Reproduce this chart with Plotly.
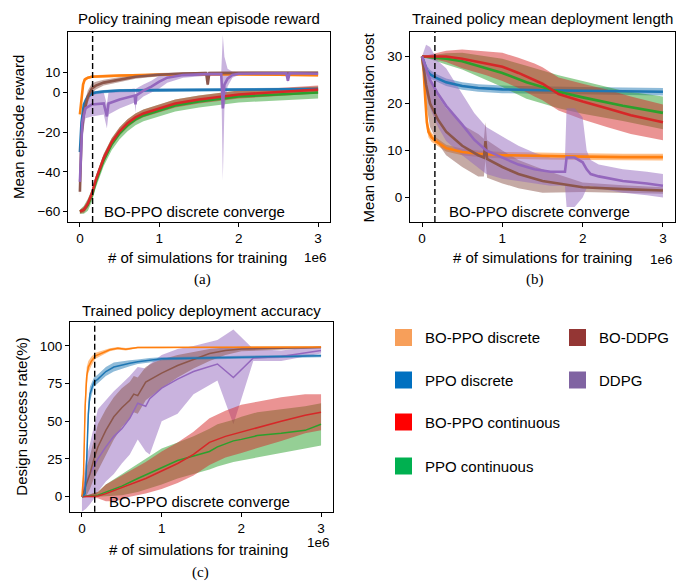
import plotly.graph_objects as go

# page body has an 8px default margin: the figure is shrunk and all pixel
# positions below are given in window pixels and converted with OFF.
WIN_W, WIN_H = 691, 583
OFF = 8
W, H = WIN_W - OFF, WIN_H - OFF

# ---------------- Panel (a): Policy training mean episode reward ----------------
A_ORANGE_X = [0, 0.02, 0.04, 0.06, 0.1, 0.15, 0.3, 0.5, 1.0, 1.5, 2.0, 2.5, 3.0]
A_ORANGE_Y = [-11, -3, 4, 6.5, 7.5, 8, 8.3, 8.6, 9, 9.2, 9.2, 9, 8.8]
A_ORANGE_LO = [-12.5, -5, 2.5, 5.5, 6.8, 7.3, 7.6, 7.9, 8.3, 8.5, 8.5, 8.3, 8.1]
A_ORANGE_HI = [-9.5, -1, 5.5, 7.5, 8.2, 8.7, 9.0, 9.3, 9.7, 9.9, 9.9, 9.7, 9.5]

A_BLUE_X = [0, 0.02, 0.05, 0.1, 0.15, 0.2, 0.3, 0.5, 1.0, 1.5, 2.0, 2.5, 3.0]
A_BLUE_Y = [-30, -15, -6, -2, -0.5, 0, 0.5, 1, 1.2, 1.3, 1.5, 1.6, 1.8]
A_BLUE_LO = [-32, -18, -8, -3.5, -1.5, -0.8, -0.3, 0.2, 0.4, 0.5, 0.7, 0.8, 1.0]
A_BLUE_HI = [-28, -12, -4, -0.5, 0.5, 0.8, 1.3, 1.8, 2.0, 2.1, 2.3, 2.4, 2.6]

A_RED_X = [0, 0.05, 0.1, 0.15, 0.2, 0.25, 0.3, 0.4, 0.5, 0.6, 0.7, 0.8, 1.0, 1.2, 1.5, 1.8, 2.0, 2.5, 3.0]
A_RED_Y = [-60, -59, -56, -51, -44, -38, -33, -25, -19.5, -15.5, -12.5, -10.5, -8, -5.5, -3.5, -2, -1, 0.3, 1.5]
A_RED_LO = [-61, -60.5, -58, -53, -46, -40, -35, -27, -21.5, -17.5, -14.5, -12.5, -10, -7.5, -5.5, -4, -3, -1.7, -0.5]
A_RED_HI = [-59, -57.5, -54, -49, -42, -36, -31, -23, -17.5, -13.5, -10.5, -8.5, -6, -3.5, -1.5, 0, 1, 2.3, 3.5]

A_GREEN_X = [0, 0.05, 0.1, 0.15, 0.2, 0.25, 0.3, 0.4, 0.5, 0.6, 0.7, 0.8, 1.0, 1.2, 1.5, 1.8, 2.0, 2.5, 3.0]
A_GREEN_Y = [-60, -59, -56.5, -52, -45, -39, -34, -26, -20.5, -16.5, -13.5, -11.5, -9, -6.5, -4.5, -3, -2, -1, 0]
A_GREEN_LO = [-61, -61, -59.5, -55, -48, -42, -37, -29, -23.5, -19.5, -16.5, -14.5, -12, -9.5, -7.5, -6, -5, -4, -3]
A_GREEN_HI = [-59, -57, -53.5, -49, -42, -36, -31, -23, -17.5, -13.5, -10.5, -8.5, -6, -3.5, -1.5, 0, 1, 2, 3]

A_BROWN_X = [0, 0.02, 0.05, 0.1, 0.15, 0.2, 0.3, 0.5, 0.7, 1.0, 1.3, 1.59, 1.61, 1.63, 2.0, 2.5, 3.0]
A_BROWN_Y = [-50, -22, -10, -2, 2, 3.5, 5, 6.5, 8, 9, 9.6, 9.8, 4, 9.8, 10, 10, 10]
A_BROWN_LO = [-52, -27, -14, -5, -0.5, 1.5, 3.5, 5.3, 7, 8.2, 8.9, 9.1, 3.3, 9.1, 9.4, 9.4, 9.4]
A_BROWN_HI = [-48, -17, -6, 1, 4.5, 5.5, 6.5, 7.7, 9, 9.8, 10.3, 10.5, 4.7, 10.5, 10.6, 10.6, 10.6]

A_PURPLE_X = [0, 0.03, 0.07, 0.15, 0.3, 0.34, 0.36, 0.5, 0.69, 0.7, 0.71, 0.8, 0.9, 1.0, 1.1, 1.3, 1.6,
              1.78, 1.8, 1.82, 1.86, 1.92, 2.0, 2.5, 2.6, 2.62, 2.64, 3.0]
A_PURPLE_Y = [-45, -15, -8, -6, -5.5, -12, -5.5, -3.5, -1.5, -6, -1.5, 1, 3, 5.5, 7.5, 8.8, 9.3,
              9.3, -8, 4, 7, 8.8, 9.5, 9.7, 9.7, 6, 9.7, 9.5]
A_PURPLE_LO = [-50, -22, -13, -12, -11, -18, -11, -8, -5, -10, -5, -2, 0, 2, 5, 7.5, 8.5,
               8.5, -44, -8, 3, 7.5, 8.8, 9, 9, 5, 9, 8.8]
A_PURPLE_HI = [-40, -8, -3, -1, 0, -6, 0, 1, 2, -2, 2, 4, 6, 8.5, 9.5, 10, 10,
               10, 29, 18, 12, 10.5, 10.2, 10.3, 10.3, 7, 10.3, 10.2]

# ---------------- Panel (b): Trained policy mean deployment length ----------------
B_ORANGE_X = [0, 0.02, 0.04, 0.06, 0.08, 0.12, 0.17, 0.3, 0.5, 0.7, 1.0, 1.5, 2.0, 2.5, 3.0]
B_ORANGE_Y = [30, 27, 21, 16, 14, 12.8, 12, 10.5, 9.7, 9.3, 9, 8.8, 8.7, 8.6, 8.6]
B_ORANGE_LO = [30, 25, 19, 14.5, 12.8, 11.8, 11.2, 9.8, 9.0, 8.6, 8.3, 8.1, 8.0, 7.9, 7.9]
B_ORANGE_HI = [30, 29, 23, 17.5, 15.2, 13.8, 12.8, 11.2, 10.4, 10.0, 9.7, 9.5, 9.4, 9.3, 9.3]

B_BLUE_X = [0, 0.03, 0.06, 0.1, 0.17, 0.3, 0.5, 0.7, 1.0, 1.5, 2.0, 2.5, 3.0]
B_BLUE_Y = [30, 28.5, 27, 26.2, 25.5, 24.5, 23.7, 23.3, 23, 22.8, 22.7, 22.6, 22.5]
B_BLUE_LO = [30, 27.5, 26, 25.3, 24.7, 23.7, 22.9, 22.5, 22.2, 22.0, 21.9, 21.8, 21.7]
B_BLUE_HI = [30, 29.5, 28, 27.1, 26.3, 25.3, 24.5, 24.1, 23.8, 23.6, 23.5, 23.4, 23.3]

B_RED_X = [0, 0.3, 0.5, 0.8, 1.0, 1.2, 1.4, 1.5, 1.7, 2.0, 2.3, 2.6, 3.0]
B_RED_Y = [30, 30, 29.5, 28.5, 27.8, 26.5, 25, 24.2, 22, 20.4, 19, 17.5, 16]
B_RED_LO = [30, 28.8, 27.5, 26, 24.8, 23.3, 21.5, 20.7, 18.5, 16.6, 15, 13.5, 12.2]
B_RED_HI = [30, 31.2, 31.5, 31, 30.8, 29.7, 28.5, 27.7, 25.5, 24.2, 23, 21.5, 19.8]

B_GREEN_X = [0, 0.3, 0.5, 0.8, 1.0, 1.3, 1.5, 1.7, 2.0, 2.5, 3.0]
B_GREEN_Y = [30, 29.5, 29, 27.5, 26.5, 24.5, 23.5, 22.5, 21.3, 19.5, 18]
B_GREEN_LO = [30, 28.3, 27.2, 25, 23.5, 21, 20, 19, 17.8, 16.3, 14.5]
B_GREEN_HI = [30, 30.7, 30.8, 30, 29.5, 28, 27, 26, 24.8, 22.7, 21.5]

B_BROWN_X = [0, 0.05, 0.1, 0.2, 0.3, 0.5, 0.7, 0.77, 0.79, 0.81, 1.0, 1.2, 1.5, 2.0, 2.5, 3.0]
B_BROWN_Y = [30, 24, 20, 16.5, 14, 11, 9, 8.5, 12, 8.2, 6.5, 5, 3.5, 2.2, 1.8, 1.5]
B_BROWN_LO = [30, 20, 15, 11.5, 9, 6.5, 4.5, 4.5, 8, 4.2, 3, 2, 1, 1.2, 1, 0.8]
B_BROWN_HI = [30, 28, 25, 21.5, 19, 15.5, 13.5, 12.5, 16, 12.2, 10, 8, 6, 3.2, 2.6, 2.2]

B_PURPLE_X = [0, 0.05, 0.1, 0.2, 0.3, 0.5, 0.65, 0.8, 1.0, 1.2, 1.4, 1.6, 1.78, 1.8, 1.9, 2.0,
              2.05, 2.1, 2.2, 2.5, 2.8, 3.0]
B_PURPLE_Y = [30, 27.5, 25, 22, 19.5, 15.5, 12.3, 10, 8.5, 7, 6, 5.5, 5.5, 8.5, 8.5, 7.5,
              6, 5, 4.5, 3.5, 3, 2.5]
B_PURPLE_LO = [30, 22, 19, 15, 12, 9, 7, 5, 4, 3.5, 3, 2.5, 2.5, -2, -2, 0,
               2, 2.5, 2, 1, 0.5, 0]
B_PURPLE_HI = [30, 32.5, 32, 29, 27.5, 22, 18, 15, 13, 11, 9.5, 8.5, 8.5, 19, 19, 17,
               10, 8, 7, 6, 5.5, 5]

# ---------------- Panel (c): Trained policy deployment accuracy ----------------
C_ORANGE_X = [0, 0.02, 0.04, 0.06, 0.08, 0.12, 0.17, 0.25, 0.35, 0.45, 0.55, 0.7, 1.0, 1.5, 2.0, 2.5, 3.0]
C_ORANGE_Y = [0, 15, 60, 80, 86, 90, 93.5, 95.5, 97.5, 98.5, 97.8, 99, 99, 99.2, 99.3, 99.3, 99.3]
C_ORANGE_LO = [0, 7, 48, 74, 82, 87, 91.5, 94, 96.5, 97.7, 97, 98.5, 98.5, 98.9, 99, 99, 99]
C_ORANGE_HI = [0, 23, 72, 86, 90, 93, 95.5, 97, 98.5, 99.3, 98.6, 99.5, 99.5, 99.5, 99.6, 99.6, 99.6]

C_BLUE_X = [0, 0.04, 0.06, 0.08, 0.1, 0.15, 0.2, 0.3, 0.4, 0.5, 0.6, 0.7, 0.85, 1.0, 1.5, 2.0, 2.5, 3.0]
C_BLUE_Y = [0, 2, 25, 55, 68, 76, 78, 83, 86, 87.5, 88.5, 89.5, 90.5, 91.5, 92, 92.5, 92.8, 93.5]
C_BLUE_LO = [0, 0, 17, 47, 63, 73, 75, 80, 83, 85, 86.5, 88, 89, 90.5, 91, 91.5, 91.8, 92.5]
C_BLUE_HI = [0, 4, 33, 63, 73, 79, 81, 86, 89, 90, 90.5, 91, 92, 92.5, 93, 93.5, 93.8, 94.5]

C_RED_X = [0, 0.2, 0.3, 0.4, 0.5, 0.6, 0.8, 1.0, 1.2, 1.4, 1.6, 1.8, 2.0, 2.2, 2.5, 2.8, 3.0]
C_RED_Y = [0, 0.5, 2, 4, 6, 8, 12, 17, 22, 28, 36, 40, 43, 46, 50, 54, 56]
C_RED_LO = [0, -1, -3, -3, -2, 0, 2, 5, 9, 14, 21, 26, 29, 32, 37, 42, 44]
C_RED_HI = [0, 3, 8, 11, 14, 17, 23, 30, 36, 43, 52, 57, 61, 63, 66, 68, 68]

C_GREEN_X = [0, 0.2, 0.3, 0.5, 0.7, 1.0, 1.2, 1.4, 1.6, 1.7, 1.9, 2.0, 2.2, 2.5, 2.8, 3.0]
C_GREEN_Y = [0, 1, 3, 7, 12, 19, 24, 27, 30, 33, 37, 38, 40.5, 42, 44, 48]
C_GREEN_LO = [0, 0, 0, 1, 3, 8, 12, 15, 18, 20, 23, 24, 26, 29, 32, 34]
C_GREEN_HI = [0, 3, 8, 15, 22, 32, 36, 40, 45, 48, 51, 53, 56, 58, 60, 62]

C_BROWN_X = [0, 0.05, 0.1, 0.15, 0.2, 0.3, 0.4, 0.5, 0.6, 0.65, 0.7, 0.8, 0.9, 1.0, 1.2, 1.4, 1.6, 1.8, 2.0, 2.5, 3.0]
C_BROWN_Y = [0, 8, 15, 25, 33, 44, 53, 59, 64, 68, 67, 76, 79, 82, 87, 91, 95, 97, 98, 98.5, 99]
C_BROWN_LO = [0, 0, 5, 12, 18, 28, 38, 46, 52, 56, 55, 64, 68, 72, 79, 85, 90, 94, 96.5, 97.5, 98.5]
C_BROWN_HI = [0, 18, 27, 38, 48, 58, 66, 72, 76, 80, 79, 86, 89, 91, 94, 96, 98, 99, 99.5, 99.5, 99.5]

C_PURPLE_X = [0, 0.05, 0.1, 0.17, 0.2, 0.3, 0.4, 0.5, 0.6, 0.7, 0.8, 0.85, 1.0, 1.2, 1.4, 1.7, 1.9, 2.15, 2.5, 3.0]
C_PURPLE_Y = [0, 10, 15, 22, 25, 33, 40, 45, 52, 62, 60, 65, 72, 78, 83, 88, 79, 92, 93, 97]
C_PURPLE_LO = [-10, -8, -5, 0, 3, 10, 15, 22, 28, 38, 30, 28, 50, 55, 68, 77, 48, 90, 90, 95]
C_PURPLE_HI = [5, 25, 35, 50, 58, 64, 70, 75, 80, 86, 85, 88, 94, 98, 100, 104, 111, 98, 97, 100]

# ---------------- Common ----------------
SERIES_NAMES = ["BO-PPO discrete", "PPO discrete", "BO-PPO continuous", "PPO continuous", "BO-DDPG", "DDPG"]
LINE_COLORS = {"orange": "#ff7f0e", "blue": "#1f77b4", "red": "#d62728",
               "green": "#2ca02c", "brown": "#8c564b", "purple": "#9467bd"}
LEGEND_COLORS = ["#F79F5A", "#0070C0", "#FF0000", "#00B050", "#943634", "#8064A2"]
CONVERGE_X = 0.16
TITLES = ["Policy training mean episode reward", "Trained policy mean deployment length",
          "Trained policy deployment accuracy"]
YTITLES = ["Mean episode reward", "Mean design simulation cost", "Design success rate(%)"]
XTITLE = "# of simulations for training"
A_YTICKS = [-60, -40, -20, 0, 10]
B_YTICKS = [0, 10, 20, 30]
C_YTICKS = [0, 25, 50, 75, 100]
XTICKS = [0, 1, 2, 3]

FONT = "Liberation Sans, Arial, Helvetica, sans-serif"


def px(x):
    return (x - OFF) / W


def py(y):
    return 1 - (y - OFF) / H


def hexa(h, a):
    h = h.lstrip("#")
    return "rgba(%d,%d,%d,%.2f)" % (int(h[0:2], 16), int(h[2:4], 16), int(h[4:6], 16), a)


def fmt(v):
    return ("\u2212%g" % -v) if v < 0 else "%g" % v


fig = go.Figure()

panels = {
    "a": [("orange", A_ORANGE_X, A_ORANGE_Y, A_ORANGE_LO, A_ORANGE_HI),
          ("blue", A_BLUE_X, A_BLUE_Y, A_BLUE_LO, A_BLUE_HI),
          ("green", A_GREEN_X, A_GREEN_Y, A_GREEN_LO, A_GREEN_HI),
          ("red", A_RED_X, A_RED_Y, A_RED_LO, A_RED_HI),
          ("brown", A_BROWN_X, A_BROWN_Y, A_BROWN_LO, A_BROWN_HI),
          ("purple", A_PURPLE_X, A_PURPLE_Y, A_PURPLE_LO, A_PURPLE_HI)],
    "b": [("orange", B_ORANGE_X, B_ORANGE_Y, B_ORANGE_LO, B_ORANGE_HI),
          ("blue", B_BLUE_X, B_BLUE_Y, B_BLUE_LO, B_BLUE_HI),
          ("green", B_GREEN_X, B_GREEN_Y, B_GREEN_LO, B_GREEN_HI),
          ("red", B_RED_X, B_RED_Y, B_RED_LO, B_RED_HI),
          ("brown", B_BROWN_X, B_BROWN_Y, B_BROWN_LO, B_BROWN_HI),
          ("purple", B_PURPLE_X, B_PURPLE_Y, B_PURPLE_LO, B_PURPLE_HI)],
    "c": [("purple", C_PURPLE_X, C_PURPLE_Y, C_PURPLE_LO, C_PURPLE_HI),
          ("brown", C_BROWN_X, C_BROWN_Y, C_BROWN_LO, C_BROWN_HI),
          ("green", C_GREEN_X, C_GREEN_Y, C_GREEN_LO, C_GREEN_HI),
          ("red", C_RED_X, C_RED_Y, C_RED_LO, C_RED_HI),
          ("blue", C_BLUE_X, C_BLUE_Y, C_BLUE_LO, C_BLUE_HI),
          ("orange", C_ORANGE_X, C_ORANGE_Y, C_ORANGE_LO, C_ORANGE_HI)],
}
axis_ids = {"a": ("x", "y"), "b": ("x2", "y2"), "c": ("x3", "y3")}
line_w = {"a": 2.6, "b": 2.6, "c": 1.5}

for key, series in panels.items():
    xa, ya = axis_ids[key]
    for color, xs, ys, lo, hi in series:
        fig.add_trace(go.Scatter(x=list(xs) + list(xs)[::-1], y=list(hi) + list(lo)[::-1],
                                 fill="toself", fillcolor=hexa(LINE_COLORS[color], 0.5),
                                 line=dict(width=0), mode="lines", hoverinfo="skip",
                                 showlegend=False, xaxis=xa, yaxis=ya))
    for color, xs, ys, lo, hi in series:
        fig.add_trace(go.Scatter(x=xs, y=ys, mode="lines",
                                 line=dict(color=LINE_COLORS[color], width=line_w[key]),
                                 showlegend=False, xaxis=xa, yaxis=ya))

domains = {
    "a": ([px(68), px(330)], [py(222), py(32)], [-65.2, 30.5], A_YTICKS),
    "b": ([px(410), px(675)], [py(222), py(32)], [-5.2, 35.2], B_YTICKS),
    "c": ([px(70), px(333)], [py(511.7), py(322.3)], [-10, 115.7], C_YTICKS),
}
axis_common = dict(showgrid=False, zeroline=False, showline=True, mirror=True,
                   linecolor="black", linewidth=1, ticks="outside", ticklen=4,
                   tickwidth=1, tickcolor="black",
                   tickfont=dict(family=FONT, size=13.5, color="black"))
layout_axes = {}
for i, key in enumerate(["a", "b", "c"]):
    xd, yd, yr, yt = domains[key]
    sfx = "" if i == 0 else str(i + 1)
    layout_axes["xaxis" + sfx] = dict(domain=xd, range=[-0.15, 3.15], tickvals=XTICKS,
                                      ticktext=[str(t) for t in XTICKS],
                                      anchor="y" + sfx, **axis_common)
    layout_axes["yaxis" + sfx] = dict(domain=yd, range=yr, tickvals=yt,
                                      ticktext=[fmt(t) for t in yt],
                                      anchor="x" + sfx, **axis_common)

fig.update_layout(width=W, height=H, margin=dict(l=0, r=0, t=0, b=0),
                  paper_bgcolor="white", plot_bgcolor="white", showlegend=False,
                  font=dict(family=FONT, color="black"), **layout_axes)

# dashed convergence lines
for key in ["a", "b", "c"]:
    xa, ya = axis_ids[key]
    fig.add_shape(type="line", xref=xa, yref=ya + " domain", x0=CONVERGE_X, x1=CONVERGE_X,
                  y0=0, y1=1, line=dict(color="black", width=1.4, dash="6px,3px"))

ann = []


def text(x, y, s, size=15, xanchor="center", angle=0, family=FONT):
    ann.append(dict(x=px(x), y=py(y), xref="paper", yref="paper", text=s, showarrow=False,
                    xanchor=xanchor, yanchor="middle", textangle=angle,
                    font=dict(family=family, size=size, color="black")))


# titles
text(199, 18, TITLES[0])
text(542.5, 18, TITLES[1])
text(201.5, 310, TITLES[2])
# y titles
text(18, 127, YTITLES[0], angle=-90)
text(368, 127.5, YTITLES[1], angle=-90)
text(22, 416.7, YTITLES[2], angle=-90)
# x titles
text(197, 258, XTITLE)
text(542.5, 258, XTITLE)
text(198, 549, XTITLE)
# offset labels
text(329, 258, "1e6", size=13.5, xanchor="right")
text(675, 259, "1e6", size=13.5, xanchor="right")
text(332, 542, "1e6", size=13.5, xanchor="right")
# converge annotations
text(102, 211, "BO-PPO discrete converge", xanchor="left")
text(447, 212, "BO-PPO discrete converge", xanchor="left")
text(107, 501.5, "BO-PPO discrete converge", xanchor="left")
# captions
SERIF = "Liberation Serif, Times New Roman, serif"
text(202, 279, "(a)", size=15, family=SERIF)
text(535, 279, "(b)", size=15, family=SERIF)
text(200, 572, "(c)", size=15, family=SERIF)

# legend (manual)
LEG_POS = [(395, 337.5), (395, 380), (395, 422), (395, 466), (569, 337.5), (569, 380)]
for (lx, ly), name, col in zip(LEG_POS, SERIES_NAMES, LEGEND_COLORS):
    fig.add_shape(type="rect", xref="paper", yref="paper", x0=px(lx), x1=px(lx + 17),
                  y0=py(ly + 8.5), y1=py(ly - 8.5), fillcolor=col, line=dict(width=0))
    text(lx + 28, ly, name, size=15, xanchor="left")

fig.update_layout(annotations=ann)
fig.write_html("out.html")
